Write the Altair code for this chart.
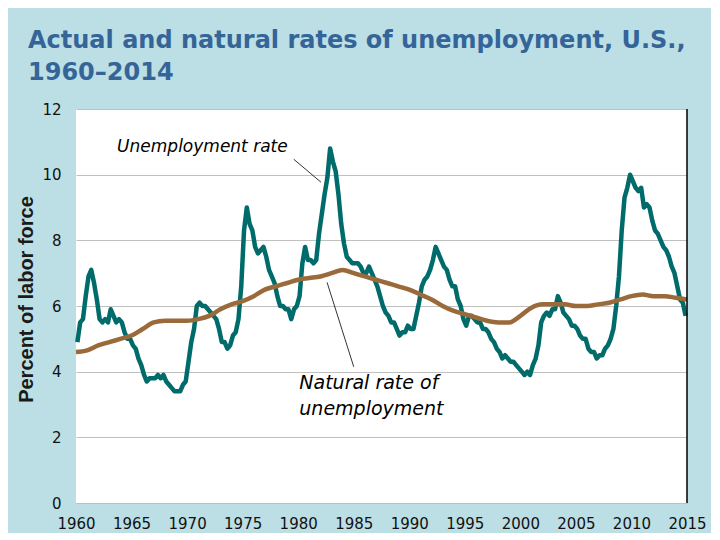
import altair as alt
import pandas as pd

# ---- data ----
years = list(range(1960, 2015))
# quarterly unemployment rate (%), 4 values per year, 1960-2014
unemployment = [
    4.9, 5.5, 5.6, 6.3,
    6.9, 7.1, 6.7, 6.2,
    5.6, 5.5, 5.6, 5.5,
    5.9, 5.7, 5.5, 5.6,
    5.5, 5.2, 5.0, 5.0,
    4.8, 4.7, 4.4, 4.2,
    3.9, 3.7, 3.8, 3.8,
    3.8, 3.9, 3.8, 3.9,
    3.7, 3.6, 3.5, 3.4,
    3.4, 3.4, 3.6, 3.7,
    4.3, 4.9, 5.3, 6.0,
    6.1, 6.0, 6.0, 5.9,
    5.8, 5.7, 5.6, 5.3,
    4.9, 4.9, 4.7, 4.8,
    5.1, 5.2, 5.6, 6.6,
    8.3, 9.0, 8.5, 8.3,
    7.8, 7.6, 7.7, 7.8,
    7.5, 7.1, 6.9, 6.7,
    6.3, 6.0, 6.0, 5.9,
    5.9, 5.6, 5.9, 6.0,
    6.3, 7.3, 7.8, 7.4,
    7.4, 7.3, 7.4, 8.2,
    8.8, 9.4, 9.9, 10.8,
    10.4, 10.1, 9.4, 8.5,
    7.9, 7.5, 7.4, 7.3,
    7.3, 7.3, 7.2, 7.0,
    7.0, 7.2, 7.0, 6.8,
    6.6, 6.3, 6.0, 5.8,
    5.7, 5.5, 5.5, 5.3,
    5.1, 5.2, 5.2, 5.4,
    5.3, 5.3, 5.7, 6.1,
    6.6, 6.8, 6.9, 7.1,
    7.4, 7.8, 7.6, 7.4,
    7.2, 7.1, 6.8, 6.6,
    6.6, 6.2, 6.0, 5.6,
    5.4, 5.7, 5.7, 5.6,
    5.5, 5.5, 5.3, 5.3,
    5.2, 5.0, 4.9, 4.7,
    4.6, 4.4, 4.5, 4.4,
    4.3, 4.3, 4.2, 4.1,
    4.0, 3.9, 4.0, 3.9,
    4.2, 4.4, 4.8, 5.5,
    5.7, 5.8, 5.7, 5.9,
    5.9, 6.3, 6.1, 5.8,
    5.7, 5.6, 5.4, 5.4,
    5.3, 5.1, 5.0, 5.0,
    4.7, 4.6, 4.6, 4.4,
    4.5, 4.5, 4.7, 4.8,
    5.0, 5.3, 6.0, 6.9,
    8.3, 9.3, 9.6, 10.0,
    9.8, 9.6, 9.5, 9.6,
    9.0, 9.1, 9.0, 8.6,
    8.3, 8.2, 8.0, 7.8,
    7.7, 7.5, 7.2, 7.0,
    6.6, 6.2, 6.1, 5.7,
]
quarter_offsets = [0.125, 0.375, 0.625, 0.875]

natural_years = list(range(1960, 2016))
natural_rate = [
    4.6, 4.65, 4.8, 4.9, 5.0, 5.1, 5.3, 5.5, 5.55, 5.55,
    5.55, 5.6, 5.7, 5.9, 6.05, 6.15, 6.3, 6.5, 6.6, 6.7,
    6.8, 6.85, 6.9, 7.0, 7.1, 7.0, 6.9, 6.8, 6.7, 6.6,
    6.5, 6.35, 6.2, 6.0, 5.85, 5.75, 5.65, 5.55, 5.5, 5.5,
    5.7, 5.95, 6.05, 6.05, 6.05, 6.0, 6.0, 6.05, 6.1, 6.2,
    6.3, 6.35, 6.3, 6.3, 6.25, 6.2,
]

label_text = ["Unemployment rate", "Natural rate of", "unemployment"]
label_x = [1963.7, 1980.1, 1980.1]
label_y = [10.84, 3.66, 2.87]
label_size = [17, 19, 19]

leader_x = [1979.6, 1982.6]
leader_y = [10.47, 6.72]
leader_x2 = [1982.05, 1985.0]
leader_y2 = [9.77, 4.15]

year_ticks = list(range(1960, 2016, 5))
value_ticks = [0, 2, 4, 6, 8, 10, 12]

# ---- tables ----
u_t, u_v = [], []
for i, y in enumerate(years):
    for q in range(4):
        u_t.append(y + quarter_offsets[q])
        u_v.append(unemployment[i * 4 + q])
df_u = pd.DataFrame({"t": u_t, "v": u_v})
df_n = pd.DataFrame({"t": natural_years, "v": natural_rate})
df_lab = pd.DataFrame({"t": label_x, "v": label_y, "text": label_text, "size": label_size})
df_lead = pd.DataFrame({"t": leader_x, "v": leader_y, "t2": leader_x2, "v2": leader_y2})
df_border = pd.DataFrame({"t": [2015], "v": [0], "v2": [12]})

xs = alt.Scale(domain=[1960, 2015], nice=False, zero=False)
ys = alt.Scale(domain=[0, 12], nice=False)

x_axis = alt.Axis(values=year_ticks, format="d", grid=False, ticks=False,
                  domain=True, domainColor="#bfbfbf", domainWidth=1,
                  labelFont="DejaVu Sans", labelFontSize=15, labelColor="#111111",
                  labelPadding=13, labelFlush=False, labelOverlap=False)
y_axis = alt.Axis(values=value_ticks, grid=True, gridColor="#c0c0c0", gridWidth=1,
                  ticks=False, domain=False,
                  labelFont="DejaVu Sans", labelFontSize=15, labelColor="#111111",
                  labelPadding=15,
                  title="Percent of labor force", titleFont="Liberation Sans",
                  titleFontSize=20, titleFontWeight="bold", titleColor="#1a1a1a",
                  titlePadding=5, titleY=190)

X = alt.X("t:Q", scale=xs, axis=x_axis, title=None)
Y = alt.Y("v:Q", scale=ys, axis=y_axis)

line_u = alt.Chart(df_u).mark_line(color="#006b6b", strokeWidth=4.5, strokeJoin="round").encode(x=X, y=Y)
line_n = alt.Chart(df_n).mark_line(color="#9a6a3a", strokeWidth=4.5, interpolate="monotone").encode(
    x=alt.X("t:Q", scale=xs), y=alt.Y("v:Q", scale=ys))

leaders = alt.Chart(df_lead).mark_rule(color="black", strokeWidth=0.8).encode(
    x=alt.X("t:Q", scale=xs), y=alt.Y("v:Q", scale=ys), x2="t2:Q", y2="v2:Q")

border = alt.Chart(df_border).mark_rule(color="black", strokeWidth=1.5).encode(
    x=alt.X("t:Q", scale=xs), y=alt.Y("v:Q", scale=ys), y2="v2:Q")

lab_small = alt.Chart(df_lab[df_lab["size"] == 17]).mark_text(
    align="left", baseline="middle", font="DejaVu Sans", fontStyle="italic",
    fontSize=17, color="black").encode(
    x=alt.X("t:Q", scale=xs), y=alt.Y("v:Q", scale=ys), text="text:N")
lab_big = alt.Chart(df_lab[df_lab["size"] == 19]).mark_text(
    align="left", baseline="middle", font="DejaVu Sans", fontStyle="italic",
    fontSize=19, color="black").encode(
    x=alt.X("t:Q", scale=xs), y=alt.Y("v:Q", scale=ys), text="text:N")

chart = alt.layer(line_u, line_n, leaders, border, lab_small, lab_big).properties(
    width=611, height=394,
    autosize=alt.AutoSizeParams(type="none"),
    padding={"left": 68, "top": 101, "right": 24, "bottom": 30},
    background="#bbdfe4",
    title=alt.TitleParams(
        text=["Actual and natural rates of unemployment, U.S.,", "1960–2014"],
        anchor="start", frame="group", dx=-48, offset=17,
        font="DejaVu Sans", fontSize=24, fontWeight="bold", color="#356598",
        lineHeight=32),
).configure_view(fill="white", stroke=None)

chart.save("out.html", embed_options={"renderer": "svg", "actions": False})
